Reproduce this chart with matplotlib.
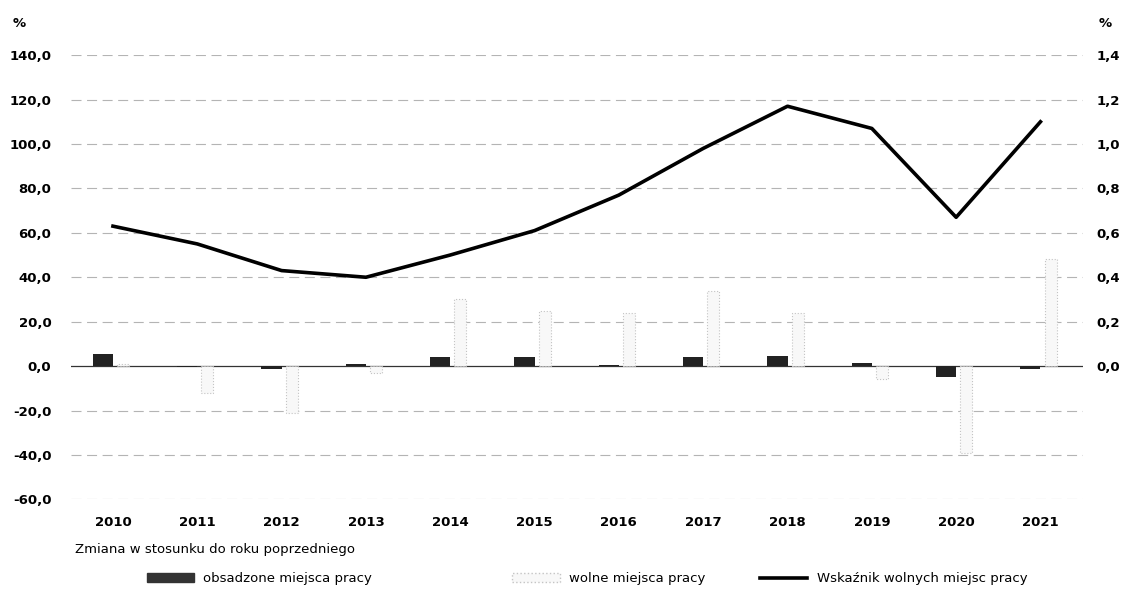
import numpy as np
import matplotlib
matplotlib.use('Agg')
import matplotlib.pyplot as plt
from matplotlib.patches import Patch
from matplotlib.lines import Line2D

# Data
years = ['2010', '2011', '2012', '2013', '2014', '2015', '2016', '2017', '2018', '2019', '2020', '2021']
obsadzone = [5.4, -0.6, -1.5, 1.0, 4.0, 4.0, 0.5, 4.0, 4.5, 1.5, -5.0, -1.5]
wolne = [1.0, -12.0, -21.0, -3.0, 30.0, 25.0, 24.0, 34.0, 24.0, -6.0, -39.0, 48.0]
wskaznik = [0.63, 0.55, 0.43, 0.40, 0.50, 0.61, 0.77, 0.98, 1.17, 1.07, 0.67, 1.10]

left_ticks = [-60, -40, -20, 0, 20, 40, 60, 80, 100, 120, 140]
right_ticks = [0.0, 0.2, 0.4, 0.6, 0.8, 1.0, 1.2, 1.4]

plt.rcParams['font.family'] = ['DejaVu Sans']
plt.rcParams['font.size'] = 9.5

fig = plt.figure(figsize=(11.42, 6.06), dpi=100)
ax1 = fig.add_axes([0.062, 0.176, 0.886, 0.733])

x = np.arange(len(years))
w = 0.24

# grid
for t in left_ticks:
    if t == 0:
        ax1.axhline(0, color='#333333', lw=0.9, zorder=1)
    else:
        ax1.axhline(t, color='#b4b4b4', lw=0.8, ls=(0, (9, 5)), zorder=0)

ax1.bar(x - w / 2, obsadzone, width=w, color='#222222', zorder=3)
ax1.bar(x + w / 2, wolne, width=w * 0.6, color='#f8f8f8', edgecolor='#c4c4c4',
        lw=0.8, ls=':', zorder=2)

ax1.set_ylim(-60, 140)
ax1.set_xlim(-0.5, len(years) - 0.5)
ax1.set_yticks(left_ticks)
ax1.set_yticklabels([f'{t:.1f}'.replace('.', ',') for t in left_ticks], fontweight='bold')
ax1.set_xticks(x)
ax1.set_xticklabels(years, fontweight='bold')
ax1.tick_params(axis='both', length=0, pad=14)
ax1.tick_params(axis='x', pad=12)
for s in ax1.spines.values():
    s.set_visible(False)

ax2 = ax1.twinx()
ax2.plot(x, wskaznik, color='black', lw=2.6, zorder=5)
ax2.set_ylim(-0.6, 1.4)
ax2.set_yticks(right_ticks)
ax2.set_yticklabels([f'{t:.1f}'.replace('.', ',') for t in right_ticks], fontweight='bold')
ax2.tick_params(axis='y', length=0, pad=10)
for s in ax2.spines.values():
    s.set_visible(False)

fig.text(0.011, 0.955, '%', fontweight='bold', fontsize=9.5)
fig.text(0.962, 0.955, '%', fontweight='bold', fontsize=9.5)
fig.text(0.066, 0.088, 'Zmiana w stosunku do roku poprzedniego', fontsize=9.5)

# legend, one entry each so the gaps match the original
entries = [
    (Patch(facecolor='#333333', edgecolor='#333333'), 'obsadzone miejsca pracy', 0.118),
    (Patch(facecolor='#f8f8f8', edgecolor='#c4c4c4', ls=':'), 'wolne miejsca pracy', 0.438),
    (Line2D([0], [0], color='black', lw=2.6), 'Wskaźnik wolnych miejsc pracy', 0.655),
]
for h, lab, xpos in entries:
    fig.legend([h], [lab], loc='center left', bbox_to_anchor=(xpos, 0.045),
               frameon=False, handlelength=3.6, handletextpad=0.7, fontsize=9.5)

fig.savefig('out.png', dpi=100)
